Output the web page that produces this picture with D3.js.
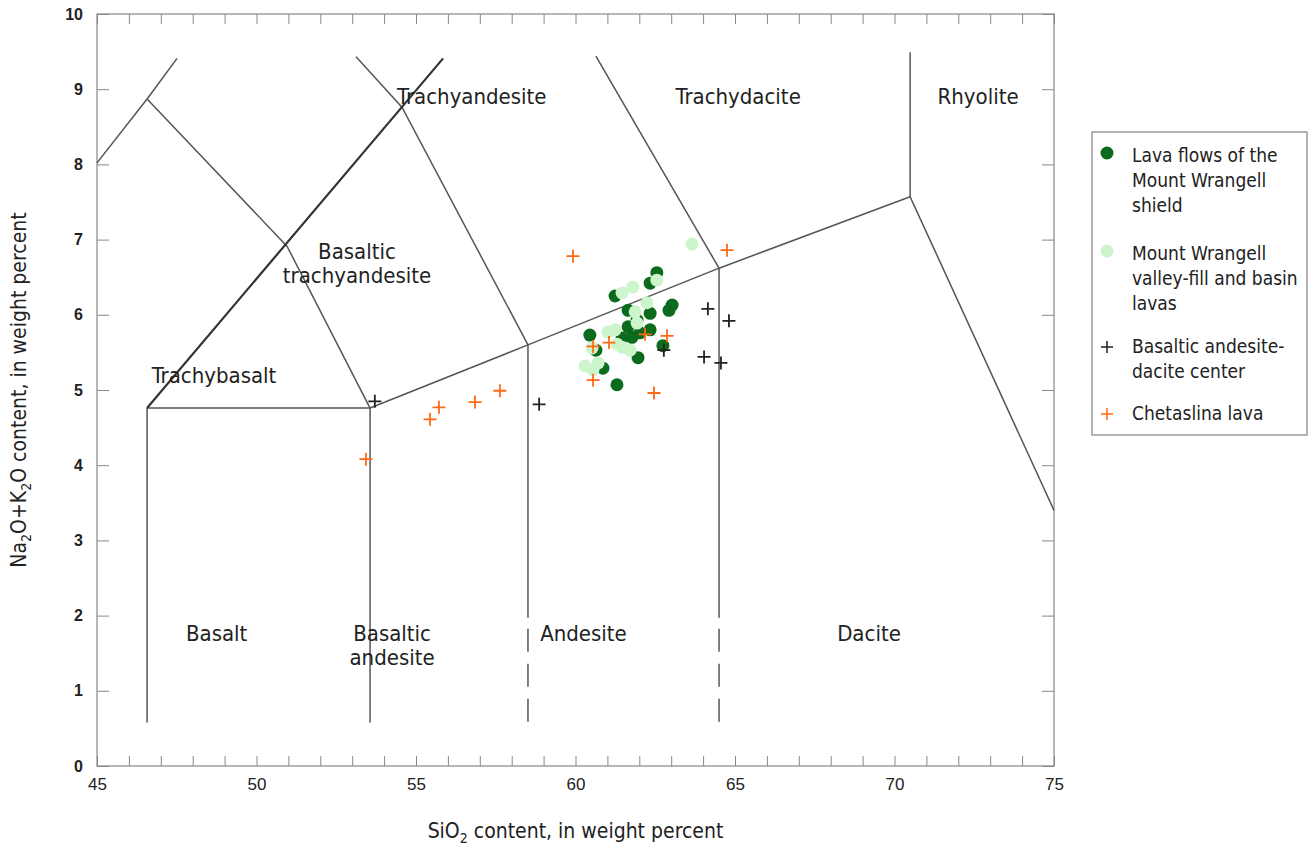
<!DOCTYPE html>
<html>
<head>
<meta charset="utf-8">
<script src="https://cdn.jsdelivr.net/npm/d3@7"></script>
<style>
  body { margin: 0; background: #fff; }
  text { font-family: "Liberation Sans Narrow", "DejaVu Sans Condensed", "Liberation Sans", sans-serif; fill: #222; }
</style>
</head>
<body>
<div id="chart"></div>
<script>
// ---- data ----
// Lava flows of the Mount Wrangell shield
var shieldSi  = [62.55, 62.34, 61.24, 63.03, 62.93, 61.65, 62.34, 60.45, 60.64, 61.65, 61.46, 61.77, 62.34, 62.02, 61.93, 62.74, 61.96, 60.86, 61.30];
var shieldAlk = [6.56, 6.42, 6.25, 6.13, 6.06, 6.06, 6.02, 5.73, 5.53, 5.84, 5.69, 5.70, 5.80, 5.76, 5.93, 5.59, 5.43, 5.29, 5.07];
// Mount Wrangell valley-fill and basin lavas
var valleySi  = [63.65, 62.55, 61.80, 61.46, 62.24, 61.87, 61.93, 61.02, 61.24, 61.46, 61.71, 60.52, 60.30, 60.71, 60.55, 61.30];
var valleyAlk = [6.94, 6.46, 6.37, 6.29, 6.16, 6.04, 5.89, 5.77, 5.80, 5.57, 5.53, 5.56, 5.32, 5.36, 5.27, 5.61];
// Basaltic andesite-dacite center
var centerSi  = [53.71, 58.86, 62.77, 64.15, 64.81, 64.03, 64.56];
var centerAlk = [4.85, 4.81, 5.53, 6.08, 5.92, 5.44, 5.36];
// Chetaslina lava
var chetSi  = [59.92, 64.75, 53.43, 55.44, 55.72, 56.85, 57.63, 60.55, 61.05, 62.18, 62.87, 60.55, 62.46];
var chetAlk = [6.78, 6.86, 4.08, 4.61, 4.77, 4.84, 4.99, 5.58, 5.63, 5.74, 5.72, 5.13, 4.96];

var xTicks = [45, 50, 55, 60, 65, 70, 75];
var yTicks = [0, 1, 2, 3, 4, 5, 6, 7, 8, 9, 10];

// field boundaries (SiO2, alkali)
var boundaries = [
  [[45, 8.02], [46.57, 8.87], [47.51, 9.41]],
  [[46.57, 8.87], [50.96, 6.91], [53.56, 4.76]],
  [[53.12, 9.43], [54.56, 8.76], [58.51, 5.60]],
  [[60.64, 9.44], [64.5, 6.62]],
  [[70.49, 9.49], [70.49, 7.57], [75, 3.40]],
  [[53.56, 4.76], [58.51, 5.60], [64.5, 6.62], [70.49, 7.57]],
  [[46.57, 4.76], [53.56, 4.76]],
  [[46.57, 4.76], [46.57, 0.58]],
  [[53.56, 4.76], [53.56, 0.58]],
  [[58.51, 5.60], [58.51, 1.97]],
  [[64.5, 6.62], [64.5, 1.97]]
];
var alkalineLine = [[46.57, 4.76], [55.85, 9.41]];
var dashedLines = [
  [[58.51, 1.97], [58.51, 0.58]],
  [[64.5, 1.97], [64.5, 0.58]]
];

var fieldNames = [
  {lines: ["Trachyandesite"], x: 56.75, y: 8.9},
  {lines: ["Trachydacite"], x: 65.1, y: 8.9},
  {lines: ["Rhyolite"], x: 72.62, y: 8.9},
  {lines: ["Basaltic", "trachyandesite"], x: 53.15, y: 6.85},
  {lines: ["Trachybasalt"], x: 48.67, y: 5.2},
  {lines: ["Basalt"], x: 48.75, y: 1.77},
  {lines: ["Basaltic", "andesite"], x: 54.25, y: 1.77},
  {lines: ["Andesite"], x: 60.25, y: 1.77},
  {lines: ["Dacite"], x: 69.2, y: 1.77}
];

var legendItems = [
  {lines: ["Lava flows of the", "Mount Wrangell", "shield"], type: "dot", color: "#0b6a1c"},
  {lines: ["Mount Wrangell", "valley-fill and basin", "lavas"], type: "dot", color: "#ccf5cc"},
  {lines: ["Basaltic andesite-", "dacite center"], type: "cross", color: "#222"},
  {lines: ["Chetaslina lava"], type: "cross", color: "#ff6a13"}
];

// ---- layout ----
var margin = {top: 14, right: 258, bottom: 89, left: 97},
    width = 1312 - margin.left - margin.right,
    height = 855 - margin.top - margin.bottom;

var svg = d3.select("#chart")
  .append("svg")
    .attr("width", 1312)
    .attr("height", 855);

var g = svg.append("g")
    .attr("transform", "translate(" + margin.left + "," + margin.top + ")");

var x = d3.scaleLinear().domain([45, 75]).range([0, width]);
var y = d3.scaleLinear().domain([0, 10]).range([height, 0]);

var line = d3.line().x(function(d) { return x(d[0]); }).y(function(d) { return y(d[1]); });

// minor ticks on bottom & top
g.append("g")
    .attr("transform", "translate(0," + height + ")")
    .call(d3.axisBottom(x).tickValues(d3.range(45, 76)).tickSize(-10).tickFormat(""))
    .call(function(a) { a.select(".domain").remove(); a.selectAll("line").attr("stroke", "#888"); });
g.append("g")
    .call(d3.axisTop(x).tickValues(d3.range(45, 76)).tickSize(-10).tickFormat(""))
    .call(function(a) { a.select(".domain").remove(); a.selectAll("line").attr("stroke", "#888"); });

// x labels
g.append("g")
    .attr("transform", "translate(0," + height + ")")
    .call(d3.axisBottom(x).tickValues(xTicks).tickSize(0).tickPadding(12))
    .call(function(a) {
      a.select(".domain").remove();
      a.selectAll("text").style("font-size", "17px").style("font-family", "'Liberation Sans Narrow', sans-serif");
    });

// y axis left & right
g.append("g")
    .call(d3.axisLeft(y).tickValues(yTicks).tickSize(-12).tickPadding(14))
    .call(function(a) {
      a.select(".domain").remove();
      a.selectAll("line").attr("stroke", "#888");
      a.selectAll("text").style("font-size", "16px").style("font-weight", "bold").style("font-family", "'Liberation Sans', sans-serif");
    });
g.append("g")
    .attr("transform", "translate(" + width + ",0)")
    .call(d3.axisRight(y).tickValues(yTicks).tickSize(-12).tickFormat(""))
    .call(function(a) { a.select(".domain").remove(); a.selectAll("line").attr("stroke", "#888"); });

// frame
g.append("rect")
    .attr("width", width).attr("height", height)
    .attr("fill", "none").attr("stroke", "#888").attr("stroke-width", 1.2);

// boundaries
g.selectAll(".bnd")
  .data(boundaries)
  .enter().append("path")
    .attr("d", line)
    .attr("fill", "none").attr("stroke", "#555").attr("stroke-width", 1.5);
g.append("path")
    .attr("d", line(alkalineLine))
    .attr("fill", "none").attr("stroke", "#333").attr("stroke-width", 2.2);
g.selectAll(".dash")
  .data(dashedLines)
  .enter().append("path")
    .attr("d", line)
    .attr("fill", "none").attr("stroke", "#555").attr("stroke-width", 1.5)
    .attr("stroke-dasharray", "23 12").attr("stroke-dashoffset", 24);

// field names
fieldNames.forEach(function(f) {
  var t = g.append("text")
      .attr("x", x(f.x)).attr("y", y(f.y))
      .attr("text-anchor", "middle")
      .style("font-size", "22px");
  f.lines.forEach(function(l, i) {
    t.append("tspan").attr("x", x(f.x)).attr("dy", i == 0 ? "0.35em" : "1.1em").text(l);
  });
});

// points
function pts(si, alk) { return si.map(function(s, i) { return [s, alk[i]]; }); }

g.selectAll(".shield")
  .data(pts(shieldSi, shieldAlk))
  .enter().append("circle")
    .attr("cx", function(d) { return x(d[0]); })
    .attr("cy", function(d) { return y(d[1]); })
    .attr("r", 6.5)
    .attr("fill", legendItems[0].color);

g.selectAll(".valley")
  .data(pts(valleySi, valleyAlk))
  .enter().append("circle")
    .attr("cx", function(d) { return x(d[0]); })
    .attr("cy", function(d) { return y(d[1]); })
    .attr("r", 6.5)
    .attr("fill", legendItems[1].color);

function crossPath(cx, cy, s) {
  return "M" + (cx - s) + "," + cy + "H" + (cx + s) + "M" + cx + "," + (cy - s) + "V" + (cy + s);
}

g.selectAll(".center")
  .data(pts(centerSi, centerAlk))
  .enter().append("path")
    .attr("d", function(d) { return crossPath(x(d[0]), y(d[1]), 6.5); })
    .attr("stroke", legendItems[2].color).attr("stroke-width", 1.8);

g.selectAll(".chet")
  .data(pts(chetSi, chetAlk))
  .enter().append("path")
    .attr("d", function(d) { return crossPath(x(d[0]), y(d[1]), 6.5); })
    .attr("stroke", legendItems[3].color).attr("stroke-width", 1.8);

// axis titles
svg.append("text")
    .attr("x", margin.left + width / 2).attr("y", 838)
    .attr("text-anchor", "middle")
    .style("font-size", "21px")
    .html('SiO<tspan dy="5" font-size="14px">2</tspan><tspan dy="-5"> content, in weight percent</tspan>');

svg.append("text")
    .attr("transform", "translate(26," + (margin.top + height / 2) + ") rotate(-90)")
    .attr("text-anchor", "middle")
    .style("font-size", "21px")
    .html('Na<tspan dy="5" font-size="14px">2</tspan><tspan dy="-5">O+K</tspan><tspan dy="5" font-size="14px">2</tspan><tspan dy="-5">O content, in weight percent</tspan>');

// legend
var lg = svg.append("g").attr("transform", "translate(1092,132)");
lg.append("rect")
    .attr("width", 215).attr("height", 303)
    .attr("fill", "#fff").attr("stroke", "#999").attr("stroke-width", 1.5);

var itemY = [30, 128, 221, 288];
legendItems.forEach(function(it, k) {
  var yy = itemY[k];
  if (it.type == "dot") {
    lg.append("circle").attr("cx", 15).attr("cy", yy - 9).attr("r", 6.5).attr("fill", it.color);
  } else {
    lg.append("path").attr("d", crossPath(15, yy - 6, 6)).attr("stroke", it.color).attr("stroke-width", 1.5);
  }
  it.lines.forEach(function(l, i) {
    lg.append("text")
        .attr("x", 40).attr("y", yy + i * 25)
        .style("font-size", "19px")
        .text(l);
  });
});
</script>
</body>
</html>
